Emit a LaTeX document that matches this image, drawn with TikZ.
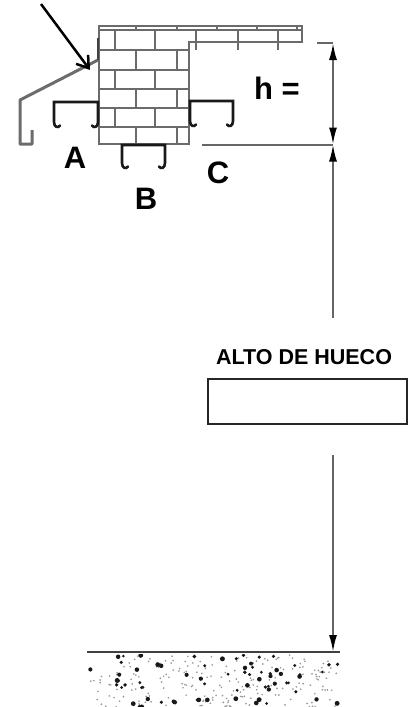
\documentclass[tikz,border=0pt]{standalone}
\usepackage{fontspec}
\setmainfont{Liberation Sans}
\usetikzlibrary{arrows.meta}
\definecolor{wallGray}{rgb}{0.42 0.42 0.42}
\definecolor{dimGray}{rgb}{0.40 0.40 0.40}
\tikzset{
  wall/.style={line width=1.6pt,color=wallGray},
  flashing/.style={line width=3pt,color=gray!85!black,line join=round},
  profile/.style={line width=2.6pt,color=black!90,line cap=round},
  dimline/.style={line width=2pt,color=dimGray},
  biglabel/.style={font=\bfseries\fontsize{31}{31}\selectfont,inner sep=0pt},
  heightlabel/.style={font=\bfseries\fontsize{21.5}{22}\selectfont,inner sep=0pt}
}
\newcommand{\steelProfile}[4]{% left, top, width, leg
  \draw[profile] (#1+6,#2+#4+1.5) .. controls (#1+4,#2+#4+4.5) and (#1,#2+#4+3) .. (#1,#2+#4-2) -- (#1,#2) -- (#1+#3,#2) -- (#1+#3,#2+#4-2) .. controls (#1+#3,#2+#4+3) and (#1+#3-4,#2+#4+4.5) .. (#1+#3-6,#2+#4+1.5);
}
\begin{document}
\begin{tikzpicture}[x=1pt,y=-1pt]
\useasboundingbox (0,0) rectangle (413,707);

\def\courses{50,70,89,108,127}
\def\joints{30/50/{115,155,196,238,278},50/70/{136,177},70/89/{115,155},89/108/{136,177},108/127/{115,155},127/144/{136,177},26/30/{136,177,217,257,297}}

% draw the wall outline
\draw[wall] (99,26) -- (302,26) -- (302,42) -- (189,42) -- (189,144) -- (99,144) -- cycle;
\draw[wall] (99,30) -- (302,30);
\foreach \y in \courses
\draw[wall] (99,\y) -- (189,\y);

% draw the brick joints
\foreach \top/\bottom/\xs in \joints
{
\foreach \x in \xs
\draw[wall] (\x,\top) -- (\x,\bottom);
}

% draw the flashing
\draw[line width=2.4pt,color=black!75] (98,38) -- (98,60);
\draw[flashing] (98,60) -- (20,100) -- (20,144) -- (32,144) -- (32,130);

% draw the profiles
\steelProfile{54}{102}{44}{22}
\steelProfile{122}{145}{43}{20}
\steelProfile{190}{101}{43}{22}

% the pointer
\coordinate (pointerStart) at (41,4);
\coordinate (pointerEnd) at (90,70);
\draw[line width=2.5pt,-{Straight Barb[length=11pt,width=15pt]}] (pointerStart) -- (pointerEnd);

% labels
\node[biglabel] (lblA) at (75,158) {A};
\node[biglabel] (lblB) at (146,199) {B};
\node[biglabel] (lblC) at (218,173) {C};
\node[biglabel] (lblH) at (277,88) {h =};
\node[heightlabel] (lblAlto) at (304,357) {ALTO DE HUECO};
\node[draw=black!85,line width=1.5pt,minimum width=199pt,minimum height=45pt,inner sep=0pt] (boxAlto) at (307.5,401.5) {};

% draw the dimension lines
\coordinate (hTick) at (317,43);
\coordinate (hTop) at (333,43);
\coordinate (hBottom) at (333,144.5);
\coordinate (hTickLow) at (202,144.5);
\coordinate (gapTop) at (333,318);
\coordinate (gapLow) at (333,455);
\coordinate (floorDim) at (333,652);
\draw[dimline] (hTick) -- (hTop);
\draw[dimline] (hTickLow) -- (hBottom);
\draw[dimline,{Latex[length=17pt,width=8pt,color=black]}-{Latex[length=17pt,width=8pt,color=black]}] (hTop) -- (hBottom);
\draw[dimline,{Latex[length=17pt,width=8pt,color=black]}-] (hBottom) -- (gapTop);
\draw[dimline,-{Latex[length=17pt,width=8pt,color=black]}] (gapLow) -- (floorDim);

% draw the floor
\coordinate (floorL) at (87,652);
\coordinate (floorR) at (340,652);
\draw[line width=2pt,color=black!75] (floorL) -- (floorR);

% the speckles
\pgfmathsetseed{4217}
\begin{scope}
\clip (87,654) rectangle (340,707);
\foreach \i in {1,...,210}
{
\pgfmathsetmacro\px{90+rnd*248}
\pgfmathsetmacro\py{655+rnd*52}
\fill[color=gray!80] (\px,\py) circle [radius=0.95];
}
\foreach \i in {1,...,70}
{
\pgfmathsetmacro\px{90+rnd*248}
\pgfmathsetmacro\py{655+rnd*52}
\pgfmathsetmacro\pr{1.4+rnd*1.1}
\fill[color=black!90] (\px,\py) circle [radius=\pr];
}
\end{scope}
\end{tikzpicture}
\end{document}
